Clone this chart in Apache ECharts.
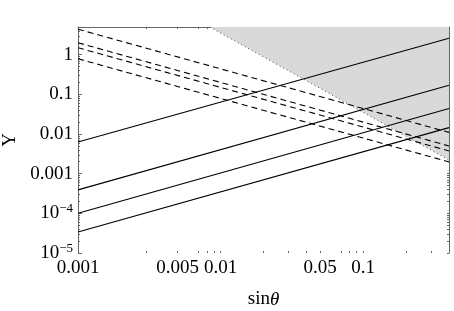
<!DOCTYPE html>
<html>
<head>
<meta charset="utf-8">
<script src="https://cdn.jsdelivr.net/npm/echarts@6/dist/echarts.min.js"></script>
<style>
    html, body {margin: 0; padding: 0; background: #fff;}
    #main {width: 454px; height: 311px;}
</style>
</head>
<body>
<div id="main"></div>
<script>
// x end points of every line (power laws are straight in log-log)
const sinTheta = [0.001, 0.4];
// rising solid lines, Y at sinTheta[0] and sinTheta[1]
const solidY = [
    [0.0063, 2.6],
    [3.9e-4, 0.17],
    [1.0e-4, 0.044],
    [3.4e-5, 0.0145]
];
// falling dashed lines
const dashedY = [
    [4.4, 0.011],
    [2.0, 0.005],
    [1.5, 0.00375],
    [0.79, 0.00198]
];
// excluded (grey) region boundary
const boundX = [0.0084, 0.4];
const boundY = [5, 0.0022];

// ticks and labels
const xLabelValues = [0.001, 0.005, 0.01, 0.05, 0.1];
const xTickValues = [0.003, 0.005, 0.007, 0.008, 0.009, 0.01, 0.02, 0.03, 0.04, 0.05,
    0.07, 0.08, 0.09, 0.1, 0.2, 0.3];
const yLabelValues = [1e-5, 1e-4, 0.001, 0.01, 0.1, 1];
const yLabelText = ['10^-5', '10^-4', '0.001', '0.01', '0.1', '1'];

const yMinorTicks = [];
for (let k = -5; k <= 0; k++) {
    for (let m = 2; m <= 9; m++) {
        const v = m * Math.pow(10, k);
        if (v <= 5) yMinorTicks.push(+v.toPrecision(3));
    }
}

const font = 'Liberation Serif';
const axisColor = '#666';

const chart = echarts.init(document.getElementById('main'), null, {renderer: 'canvas'});

const series = [];
solidY.forEach((ys, i) => {
    series.push({
        name: 'solid' + i,
        type: 'line',
        xAxisIndex: 0,
        yAxisIndex: 0,
        data: sinTheta.map((x, j) => [x, ys[j]]),
        showSymbol: false,
        lineStyle: {color: '#000', width: 1.1},
        z: 5
    });
});
dashedY.forEach((ys, i) => {
    series.push({
        name: 'dashed' + i,
        type: 'line',
        xAxisIndex: 0,
        yAxisIndex: 0,
        data: sinTheta.map((x, j) => [x, ys[j]]),
        showSymbol: false,
        lineStyle: {color: '#000', width: 1.1, type: [6, 4]},
        z: 5
    });
});
series.push({
    name: 'excluded',
    type: 'line',
    xAxisIndex: 0,
    yAxisIndex: 0,
    data: boundX.map((x, j) => [x, boundY[j]]),
    showSymbol: false,
    lineStyle: {color: '#444', width: 1, type: [1, 3]},
    areaStyle: {color: '#d9d9d9', opacity: 1, origin: 'end'},
    z: 2
});

const option = {
    animation: false,
    backgroundColor: '#fff',
    grid: {left: 78, right: 5, top: 27, bottom: 58, containLabel: false, outerBoundsMode: 'none'},
    xAxis: [
        {
            type: 'log', min: 0.001, max: 0.4, position: 'bottom',
            axisLine: {show: false},
            axisTick: {show: true, inside: true, length: 2, customValues: xTickValues,
                lineStyle: {color: axisColor}},
            axisLabel: {
                customValues: xLabelValues,
                hideOverlap: false,
                margin: 6,
                color: '#000',
                fontFamily: font,
                fontSize: 19,
                formatter: v => String(+(+v).toPrecision(3))
            },
            splitLine: {show: false},
            name: '{r|sin}{i|θ}',
            nameLocation: 'middle',
            nameGap: 37,
            nameTextStyle: {
                color: '#000', fontFamily: font, fontSize: 19,
                rich: {
                    r: {fontFamily: font, fontSize: 19, color: '#000'},
                    i: {fontFamily: font, fontSize: 19, color: '#000', fontStyle: 'italic'}
                }
            }
        },
        {
            type: 'log', min: 0.001, max: 0.4, position: 'top',
            axisLine: {show: true, lineStyle: {color: axisColor, width: 1}},
            axisTick: {show: true, inside: true, length: 2, customValues: xTickValues,
                lineStyle: {color: axisColor}},
            axisLabel: {show: false},
            splitLine: {show: false}
        }
    ],
    yAxis: [
        {
            type: 'log', min: 1e-5, max: 5, position: 'left',
            axisLine: {show: true, lineStyle: {color: axisColor, width: 1}},
            axisTick: {show: true, inside: true, length: 4, customValues: yLabelValues,
                lineStyle: {color: axisColor}},
            axisLabel: {
                customValues: yLabelValues,
                hideOverlap: false,
                margin: 5,
                color: '#000',
                fontFamily: font,
                fontSize: 19,
                formatter: v => {
                    const i = yLabelValues.findIndex(t => Math.abs(Math.log10(t) - Math.log10(v)) < 1e-6);
                    const txt = i >= 0 ? yLabelText[i] : String(v);
                    if (txt.indexOf('^') >= 0) {
                        const p = txt.split('^');
                        return '{b|' + p[0] + '}{s|' + p[1].replace('-', '\u2212') + '}';
                    }
                    return '{b|' + txt + '}';
                },
                rich: {
                    b: {fontFamily: font, fontSize: 19, color: '#000', lineHeight: 22},
                    s: {fontFamily: font, fontSize: 13, color: '#000', verticalAlign: 'top', lineHeight: 22, padding: [0, 0, 8, 0]}
                }
            },
            splitLine: {show: false},
            name: 'Y',
            nameLocation: 'middle',
            nameGap: 54,
            nameTextStyle: {color: '#000', fontFamily: font, fontSize: 19}
        },
        {
            type: 'log', min: 1e-5, max: 5, position: 'left',
            axisLine: {show: false},
            axisTick: {show: true, inside: true, length: 2, customValues: yMinorTicks,
                lineStyle: {color: axisColor}},
            axisLabel: {show: false},
            splitLine: {show: false}
        },
        {
            type: 'log', min: 1e-5, max: 5, position: 'right',
            axisLine: {show: true, lineStyle: {color: axisColor, width: 1}},
            axisTick: {show: true, inside: true, length: 2,
                customValues: yLabelValues.concat(yMinorTicks),
                lineStyle: {color: axisColor}},
            axisLabel: {show: false},
            splitLine: {show: false}
        }
    ],
    series: series
};

option && chart.setOption(option);
</script>
</body>
</html>
